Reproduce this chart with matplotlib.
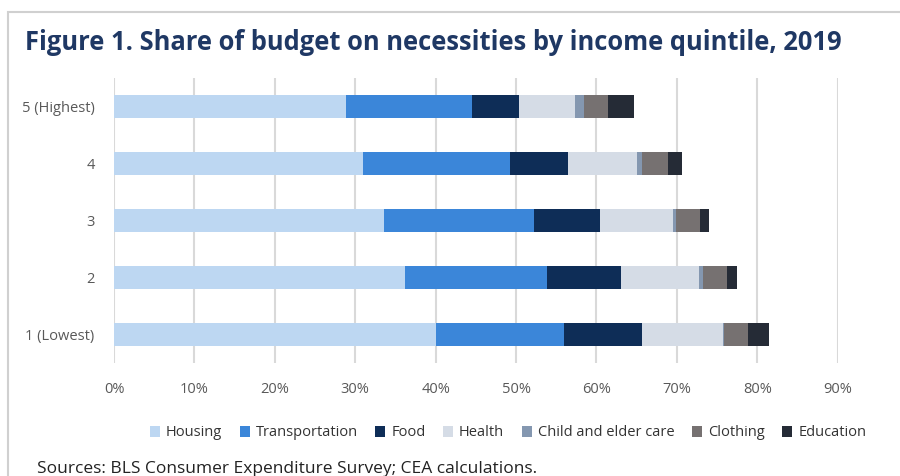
import matplotlib.pyplot as plt
from matplotlib.patches import Rectangle
import numpy as np

plt.rcParams['font.family'] = ['Open Sans', 'DejaVu Sans']

quintiles = ['1 (Lowest)', '2', '3', '4', '5 (Highest)']
categories = ['Housing', 'Transportation', 'Food', 'Health',
              'Child and elder care', 'Clothing', 'Education']
# shares in percent, rows follow quintiles (lowest first)
housing = [40.0, 36.2, 33.6, 31.0, 28.8]
transportation = [16.0, 17.7, 18.6, 18.3, 15.7]
food = [9.7, 9.1, 8.3, 7.2, 5.9]
health = [10.0, 9.8, 9.0, 8.5, 7.0]
child_care = [0.2, 0.4, 0.4, 0.7, 1.1]
clothing = [3.0, 3.1, 3.0, 3.2, 2.9]
education = [2.6, 1.2, 1.1, 1.7, 3.3]
xticks = [0, 10, 20, 30, 40, 50, 60, 70, 80, 90]

colors = ['#BDD7F2', '#3B86D9', '#0E2D57', '#D5DCE6', '#8497B0', '#767171', '#252B36']
series = [housing, transportation, food, health, child_care, clothing, education]

fig = plt.figure(figsize=(9, 4.76), dpi=100)
fig.patches.append(Rectangle((8 / 900, -0.1), 1.0, 1 - 12 / 476 + 0.1,
                             transform=fig.transFigure, fill=False,
                             edgecolor='#D0D0D0', linewidth=1.5))

ax = fig.add_axes([114 / 900, 1 - 363 / 476, (837.6 - 114) / 900, 285 / 476])
y = np.arange(len(quintiles))
left = np.zeros(len(quintiles))
for name, vals, c in zip(categories, series, colors):
    ax.barh(y, vals, left=left, height=0.4, color=c, label=name, zorder=3)
    left += np.array(vals)

ax.set_xlim(0, 90)
ax.set_ylim(-0.5, 4.5)
ax.set_xticks(xticks)
ax.set_xticklabels([f'{t}%' for t in xticks])
ax.set_yticks(y)
ax.set_yticklabels(quintiles)
ax.xaxis.grid(True, color='#D9D9D9', linewidth=1.5, zorder=0)
for s in ax.spines.values():
    s.set_visible(False)
ax.tick_params(axis='both', length=0, labelsize=10.5, colors='#595959')
ax.tick_params(axis='x', pad=14)
ax.tick_params(axis='y', pad=14)

fig.text(25 / 900, 1 - 42 / 476, 'Figure 1. Share of budget on necessities by income quintile, 2019',
         fontsize=18.4, fontweight='bold', color='#1F3864', va='center', ha='left')

fig.legend(loc='center', bbox_to_anchor=(508 / 900, 1 - 433 / 476), ncol=7, frameon=False,
           fontsize=10.5, handlelength=0.7, handleheight=0.7, handletextpad=0.4,
           columnspacing=1.2, labelcolor='#333333')

fig.text(37 / 900, 1 - 469 / 476, 'Sources: BLS Consumer Expenditure Survey; CEA calculations.',
         fontsize=12.5, color='#222222', va='center', ha='left')

fig.savefig('out.png', dpi=100)
